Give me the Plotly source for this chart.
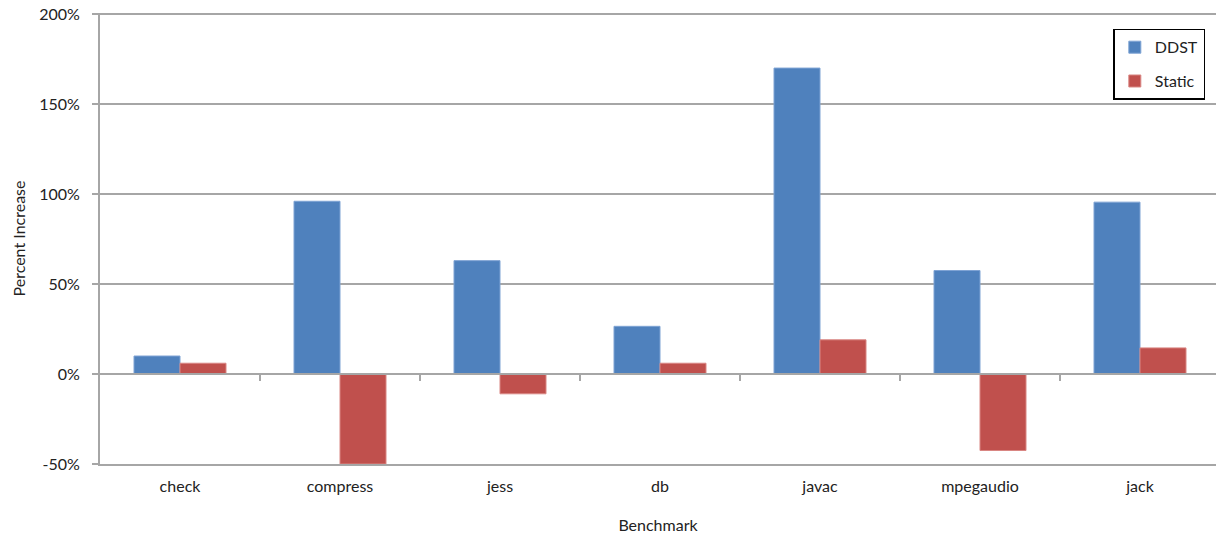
import plotly.graph_objects as go

categories = ["check", "compress", "jess", "db", "javac", "mpegaudio", "jack"]
ddst = [10, 96, 63, 26.5, 170, 57.5, 95.5]
static = [6, -50, -11, 6, 19, -42.5, 14.5]
ytick_vals = [-50, 0, 50, 100, 150, 200]
ytick_text = ["-50%", "0%", "50%", "100%", "150%", "200%"]

FONT = "Lato"
GRID = "#a6a6a6"

fig = go.Figure()
fig.add_trace(go.Bar(x=categories, y=ddst, name="DDST", legendgroup="a",
                     marker=dict(color="#4F81BD", line=dict(color="#7ea3d4", width=1))))
fig.add_trace(go.Bar(x=categories, y=static, name="Static", legendgroup="b",
                     marker=dict(color="#C0504D", line=dict(color="#d98683", width=1))))
# invisible helper trace so the category tick axis at 0% is drawn
fig.add_trace(go.Scatter(x=categories, y=[0] * len(categories), xaxis="x2",
                         mode="markers", marker=dict(opacity=0), showlegend=False,
                         hoverinfo="skip"))

n = len(categories)
xr = [-0.5, n - 0.5 - 0.025]
fig.update_layout(
    width=1216, height=535,
    margin=dict(l=100, r=0, t=13, b=71, autoexpand=False),
    paper_bgcolor="white", plot_bgcolor="white",
    font=dict(family=FONT, size=16, color="#222222"),
    barmode="group", bargap=0.425, bargroupgap=0,
    xaxis=dict(range=xr, showgrid=False, showline=True, automargin=False,
               linecolor=GRID, linewidth=2, ticks="", tickfont=dict(size=16),
               ticklabelstandoff=7,
               title=dict(text="Benchmark", font=dict(size=16), standoff=26)),
    xaxis2=dict(overlaying="x", anchor="free", position=50.0 / 250.6, matches="x",
                range=xr, showgrid=False, showline=True, automargin=False,
                linecolor=GRID, linewidth=2, ticks="outside", ticklen=6, tickwidth=1.5,
                tickcolor=GRID, tickvals=[i + 0.5 for i in range(n - 1)],
                showticklabels=False, side="bottom"),
    yaxis=dict(range=[-50, 200.6], tickvals=ytick_vals, ticktext=ytick_text,
               showgrid=True, gridcolor=GRID, gridwidth=1.5, zeroline=False,
               showline=True, linecolor=GRID, linewidth=2, automargin=False,
               ticks="outside", ticklen=6, tickcolor=GRID, tickwidth=1.5,
               ticklabelstandoff=9, tickfont=dict(size=16), ticklabeloverflow="allow",
               title=dict(text="Percent Increase", font=dict(size=16), standoff=10)),
    legend=dict(x=0.908, y=0.965, xanchor="left", yanchor="top",
                bordercolor="black", borderwidth=1.5, bgcolor="white",
                font=dict(size=16), traceorder="grouped", tracegroupgap=10,
                itemwidth=30),
    showlegend=True,
)

fig.write_html("out.html", config={"displayModeBar": False},
               post_script="document.body.style.margin='0';document.body.style.overflow='hidden';")
